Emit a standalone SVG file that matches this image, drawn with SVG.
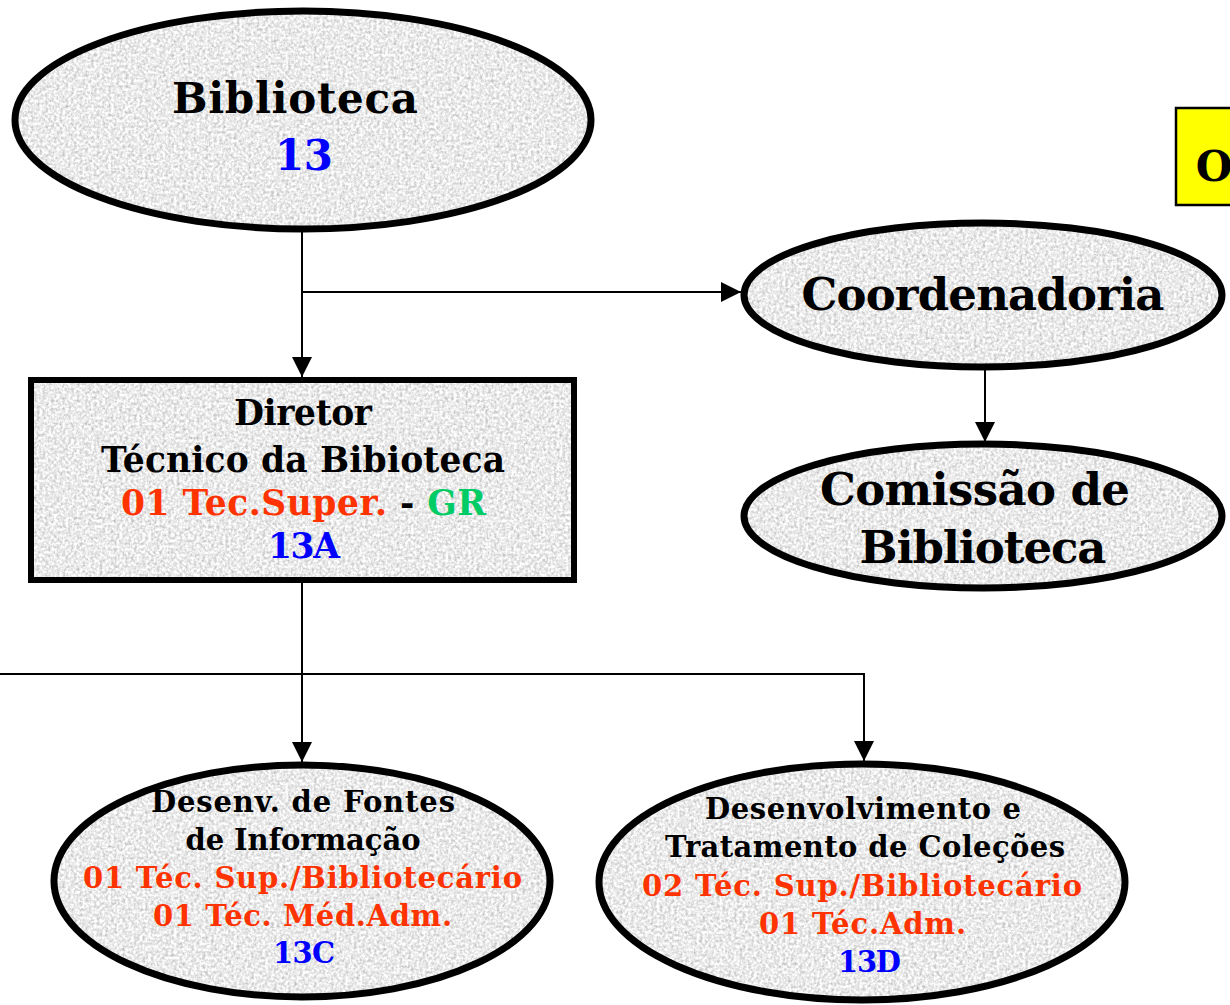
<svg xmlns="http://www.w3.org/2000/svg" width="1230" height="1005" viewBox="0 0 1230 1005">
<defs>
  <filter id="grain" x="0" y="0" width="100%" height="100%" color-interpolation-filters="sRGB">
    <feTurbulence type="fractalNoise" baseFrequency="0.35" numOctaves="3" seed="7" result="noise"/>
    <feColorMatrix in="noise" type="saturate" values="0" result="gray"/>
    <feComponentTransfer in="gray" result="tone">
      <feFuncR type="linear" slope="0.6" intercept="0.62"/>
      <feFuncG type="linear" slope="0.6" intercept="0.62"/>
      <feFuncB type="linear" slope="0.6" intercept="0.62"/>
      <feFuncA type="table" tableValues="1 1"/>
    </feComponentTransfer>
    <feComposite in="tone" in2="SourceAlpha" operator="in"/>
  </filter>
  <marker id="arrow" viewBox="0 0 20 20" refX="20" refY="10" markerWidth="20" markerHeight="20" markerUnits="userSpaceOnUse" orient="auto">
    <path d="M0,0 L20,10 L0,20 z" fill="#000"/>
  </marker>
  <style>
    .fill { fill: #e6e6e6; filter: url(#grain); }
    .outline { fill: none; stroke: #000; stroke-width: 7; }
    .routline { fill: none; stroke: #000; stroke-width: 6; }
    .conn { fill: none; stroke: #000; stroke-width: 2; }
    text { font-family: "DejaVu Serif", "Liberation Serif", serif; font-weight: bold; text-anchor: middle; }
    .blk { fill: #000; }
    .red { fill: #FF3300; }
    .blue { fill: #0000FF; }
    .green { fill: #00CC66; }
    .t42 { font-size: 42px; }
    .t45 { font-size: 45px; }
    .t33 { font-size: 34.5px; }
    .t27 { font-size: 29px; }
  </style>
</defs>
<rect width="1230" height="1005" fill="#fff"/>

<g id="connectors">
  <line class="conn" x1="302" y1="232" x2="302" y2="377" marker-end="url(#arrow)"/>
  <line class="conn" x1="302" y1="292" x2="741" y2="292" marker-end="url(#arrow)"/>
  <line class="conn" x1="985" y1="370" x2="985" y2="442" marker-end="url(#arrow)"/>
  <line class="conn" x1="302" y1="583" x2="302" y2="762" marker-end="url(#arrow)"/>
  <polyline class="conn" points="0,674 864,674 864,761" marker-end="url(#arrow)"/>
</g>

<g id="title-box">
  <rect x="1176" y="108" width="60" height="97" fill="#FFFF00" stroke="#000" stroke-width="2.5"/>
  <text class="blk t42" x="1214" y="181">O</text>
</g>

<g id="node-biblioteca">
  <ellipse class="fill" cx="303" cy="120" rx="288" ry="109"/>
  <ellipse class="outline" cx="303" cy="120" rx="288" ry="109"/>
  <text class="blk t42" x="295" y="113" textLength="246">Biblioteca</text>
  <text class="blue t42" x="304" y="170" textLength="58">13</text>
</g>

<g id="node-coordenadoria">
  <ellipse class="fill" cx="983" cy="295" rx="239" ry="72"/>
  <ellipse class="outline" cx="983" cy="295" rx="239" ry="72"/>
  <text class="blk t45" x="983" y="310" textLength="363">Coordenadoria</text>
</g>

<g id="node-comissao">
  <ellipse class="fill" cx="983" cy="516" rx="239" ry="72"/>
  <ellipse class="outline" cx="983" cy="516" rx="239" ry="72"/>
  <text class="blk t45" x="975" y="505" textLength="310">Comissão de</text>
  <text class="blk t45" x="983" y="563" textLength="247">Biblioteca</text>
</g>

<g id="node-diretor">
  <rect class="fill" x="31" y="380" width="543" height="200"/>
  <rect class="routline" x="31" y="380" width="543" height="200"/>
  <text class="blk t33" x="303" y="425" textLength="138">Diretor</text>
  <text class="blk t33" x="303" y="472" textLength="404">Técnico da Bibioteca</text>
  <text class="t33" x="303.5" y="515" textLength="365"><tspan class="red">01 Tec.Super.</tspan><tspan class="blk"> - </tspan><tspan class="green">GR</tspan></text>
  <text class="blue t33" x="304" y="558" textLength="72">13A</text>
</g>

<g id="node-13c">
  <ellipse class="fill" cx="302" cy="881" rx="248" ry="116"/>
  <ellipse class="outline" cx="302" cy="881" rx="248" ry="116"/>
  <text class="blk t27" x="303" y="812" textLength="304">Desenv. de Fontes</text>
  <text class="blk t27" x="303" y="850" textLength="235">de Informação</text>
  <text class="red t27" x="302.5" y="888" textLength="439">01 Téc. Sup./Bibliotecário</text>
  <text class="red t27" x="302.5" y="926" textLength="299">01 Téc. Méd.Adm.</text>
  <text class="blue t27" x="304" y="963" textLength="62">13C</text>
</g>

<g id="node-13d">
  <ellipse class="fill" cx="862" cy="882" rx="263" ry="118"/>
  <ellipse class="outline" cx="862" cy="882" rx="263" ry="118"/>
  <text class="blk t27" x="863" y="819" textLength="316">Desenvolvimento e</text>
  <text class="blk t27" x="865" y="857" textLength="400">Tratamento de Coleções</text>
  <text class="red t27" x="862" y="896" textLength="440">02 Téc. Sup./Bibliotecário</text>
  <text class="red t27" x="862.5" y="934" textLength="207">01 Téc.Adm.</text>
  <text class="blue t27" x="869.5" y="972" textLength="63">13D</text>
</g>
</svg>
